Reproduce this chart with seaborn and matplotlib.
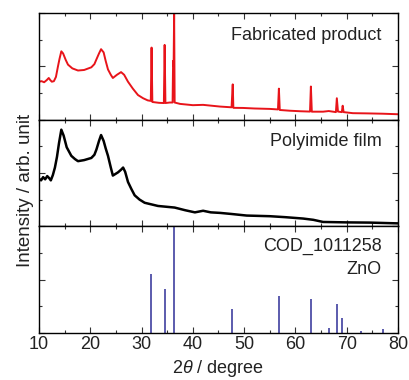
import numpy as np
import pandas as pd
import matplotlib
matplotlib.use("Agg")
import matplotlib.pyplot as plt
import seaborn as sns
from matplotlib.ticker import MultipleLocator, NullFormatter

# %% data (y is in fraction of each panel height)
fab_x = [10.0, 10.5, 11.0, 11.5, 11.9, 12.2, 12.5, 12.9, 13.3, 13.7, 14.0, 14.35, 14.7,
         15.2, 15.65, 16.5, 17.6, 18.8, 20.2, 20.8, 21.2, 21.7, 22.1, 22.6, 23.0, 23.45,
         24.0, 24.4, 25.2, 26.0, 26.6, 27.35, 28.3, 29.3, 30.3, 31.2, 31.8, 31.95, 32.1,
         33.4, 34.35, 34.5, 34.65, 35.5, 36.05, 36.15, 36.25, 36.35, 36.45, 37.5, 40.0,
         42.0, 45.3, 47.55, 47.7, 47.78, 47.9, 49.8, 52.0, 55.0, 56.6, 56.78, 56.95,
         58.9, 61.0, 62.85, 63.02, 63.2, 65.4, 66.5, 67.9, 68.08, 68.3, 69.05, 69.22, 69.4,
         71.2, 74.0, 77.0, 80.0]
fab_y = [0.355, 0.36, 0.35, 0.37, 0.39, 0.37, 0.355, 0.36, 0.40, 0.50, 0.57, 0.64, 0.62,
         0.56, 0.515, 0.48, 0.46, 0.465, 0.49, 0.52, 0.565, 0.62, 0.66, 0.63, 0.55, 0.47,
         0.42, 0.39, 0.42, 0.445, 0.42, 0.355, 0.29, 0.23, 0.20, 0.18, 0.175, 0.675, 0.165,
         0.157, 0.155, 0.70, 0.155, 0.16, 0.16, 0.55, 0.50, 1.0, 0.16, 0.147, 0.135,
         0.138, 0.122, 0.115, 0.26, 0.33, 0.11, 0.109, 0.104, 0.10, 0.095, 0.29, 0.09,
         0.083, 0.078, 0.075, 0.31, 0.074, 0.074, 0.08, 0.07, 0.20, 0.075, 0.07, 0.13, 0.07,
         0.06, 0.058, 0.055, 0.05]

pi_x = [10.0, 10.4, 10.8, 11.2, 11.6, 12.0, 12.3, 12.7, 13.1, 13.5, 13.9, 14.35, 14.8,
        15.4, 16.3, 17.0, 17.6, 18.8, 20.2, 20.8, 21.2, 21.7, 22.1, 22.6, 23.0, 23.45,
        24.0, 24.4, 25.4, 26.0, 26.4, 26.8, 27.35, 28.0, 28.65, 29.6, 30.6, 33.2, 36.45,
        38.5, 40.4, 42.0, 43.5, 45.3, 47.5, 50.5, 55.0, 58.0, 61.5, 63.5, 65.4, 70.0,
        74.5, 79.8, 80.0]
pi_y = [0.445, 0.43, 0.46, 0.44, 0.47, 0.45, 0.43, 0.48, 0.55, 0.65, 0.78, 0.905, 0.85,
        0.74, 0.66, 0.63, 0.61, 0.62, 0.64, 0.67, 0.72, 0.80, 0.855, 0.80, 0.73, 0.66,
        0.55, 0.475, 0.505, 0.53, 0.55, 0.51, 0.415, 0.35, 0.29, 0.25, 0.22, 0.19, 0.175,
        0.15, 0.13, 0.145, 0.13, 0.125, 0.115, 0.10, 0.094, 0.085, 0.072, 0.06, 0.04, 0.036,
        0.034, 0.027, 0.027]

zno_pos = [31.9, 34.5, 36.35, 47.6, 56.75, 63.0, 66.5, 68.05, 69.15, 72.7, 77.1]
zno_int = [0.55, 0.41, 1.0, 0.225, 0.345, 0.32, 0.05, 0.27, 0.135, 0.02, 0.04]

labels = ["Fabricated product", "Polyimide film", "COD_1011258\nZnO"]
label_y = [0.79, 0.79, 0.70]
xticks = [10, 20, 30, 40, 50, 60, 70, 80]

# %% style
sns.set_style("ticks")
plt.rcParams["font.family"] = ["Liberation Sans", "DejaVu Sans"]
plt.rcParams["mathtext.fontset"] = "custom"
plt.rcParams["mathtext.it"] = "Liberation Sans:italic"
plt.rcParams["mathtext.rm"] = "Liberation Sans"
txt_color = "#222222"

fig, axes = plt.subplots(3, 1, figsize=(4.09, 3.80), dpi=100, sharex=True,
                         gridspec_kw={"hspace": 0})
fig.subplots_adjust(left=0.0954, right=0.973, top=0.966, bottom=0.124)

df_fab = pd.DataFrame({"x": fab_x, "y": fab_y})
df_pi = pd.DataFrame({"x": pi_x, "y": pi_y})
sns.lineplot(data=df_fab, x="x", y="y", ax=axes[0], color="#e8141a", lw=1.4,
             estimator=None, sort=False)
sns.lineplot(data=df_pi, x="x", y="y", ax=axes[1], color="black", lw=1.8,
             estimator=None, sort=False)
axes[2].vlines(zno_pos, 0, zno_int, color="#4040a0", lw=1.2)

for ax, lab, ly in zip(axes, labels, label_y):
    ax.set_xlim(10, 80)
    ax.set_ylim(0, 1)
    ax.set_xlabel("")
    ax.set_ylabel("")
    ax.xaxis.set_major_locator(MultipleLocator(10))
    ax.xaxis.set_minor_locator(MultipleLocator(5))
    ax.yaxis.set_major_locator(MultipleLocator(0.5))
    ax.yaxis.set_minor_locator(MultipleLocator(0.25))
    ax.yaxis.set_major_formatter(NullFormatter())
    ax.tick_params(which="both", direction="in", top=True, right=True,
                   bottom=True, left=True, colors="#333333")
    ax.tick_params(which="major", length=4, width=0.8)
    ax.tick_params(which="minor", length=2.5, width=0.8)
    for sp in ax.spines.values():
        sp.set_visible(True)
        sp.set_linewidth(1.0)
        sp.set_color("black")
    ax.text(0.955, ly, lab, transform=ax.transAxes, ha="right", va="center",
            fontsize=13, color=txt_color, linespacing=1.45)

axes[2].set_xticks(xticks)
axes[2].tick_params(axis="x", labelsize=13, labelcolor=txt_color, pad=2)
axes[2].set_xlabel(r"$\mathit{2θ}$ / degree", fontsize=13, color=txt_color, labelpad=4)
fig.text(0.062, 0.5, "Intensity / arb. unit", rotation=90, ha="center", va="center",
         fontsize=13.5, color=txt_color)

fig.savefig("out.png", dpi=100)
plt.close("all")
